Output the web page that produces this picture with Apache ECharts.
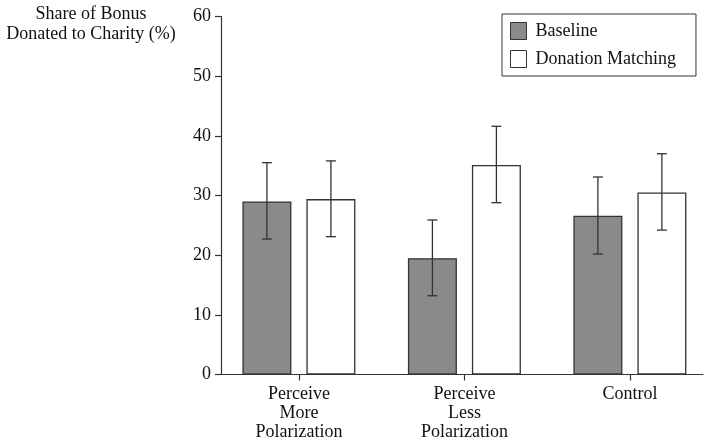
<!DOCTYPE html>
<html>
<head>
<meta charset="utf-8">
<script src="https://cdn.jsdelivr.net/npm/echarts@6/dist/echarts.min.js"></script>
<style>html,body{margin:0;padding:0;background:#fff;}#c{width:708px;height:443px;}</style>
</head>
<body>
<div id="c"></div>
<script>
const categories = ['Perceive\nMore\nPolarization', 'Perceive\nLess\nPolarization', 'Control'];
const baseline = [29.0, 19.5, 26.6];
const baselineLow = [22.7, 13.2, 20.2];
const baselineHigh = [35.5, 25.9, 33.1];
const matching = [29.4, 35.1, 30.5];
const matchingLow = [23.1, 28.8, 24.2];
const matchingHigh = [35.8, 41.6, 37.0];
const yTicks = [0, 10, 20, 30, 40, 50, 60];

const FONT = '"Liberation Serif", "DejaVu Serif", serif';
const INK = '#333';
const BAR_W = 49, GAP = 15;
const OFF = (BAR_W + GAP) / 2;

function errSeries(name, low, high, dx) {
  return {
    type: 'custom', name: name + ' err', z: 5, silent: true,
    data: low.map((l, i) => [i, l, high[i]]),
    renderItem: function (params, api) {
      const p1 = api.coord([api.value(0), api.value(1)]);
      const p2 = api.coord([api.value(0), api.value(2)]);
      const x = p1[0] + dx, c = 5;
      const st = { stroke: INK, lineWidth: 1.3 };
      return { type: 'group', children: [
        { type: 'line', shape: { x1: x, y1: p1[1], x2: x, y2: p2[1] }, style: st },
        { type: 'line', shape: { x1: x - c, y1: p1[1], x2: x + c, y2: p1[1] }, style: st },
        { type: 'line', shape: { x1: x - c, y1: p2[1], x2: x + c, y2: p2[1] }, style: st }
      ]};
    }
  };
}

const chart = echarts.init(document.getElementById('c'));
chart.setOption({
  animation: false,
  backgroundColor: '#fff',
  textStyle: { fontFamily: FONT },
  title: {
    text: 'Share of Bonus\nDonated to Charity (%)',
    left: 86, top: -1, textAlign: 'center',
    textStyle: { fontFamily: FONT, fontSize: 18, fontWeight: 'normal', color: '#111', lineHeight: 20, align: 'center' }
  },
  legend: {
    orient: 'vertical', left: 502, top: 14,
    padding: [8, 20, 8, 8],
    borderColor: INK, borderWidth: 1,
    itemWidth: 16, itemHeight: 17, itemGap: 10,
    icon: 'rect',
    data: ['Baseline', 'Donation Matching'],
    itemStyle: { borderColor: INK, borderWidth: 1 },
    textStyle: { fontFamily: FONT, fontSize: 18, color: '#111', padding: [0, 0, 0, 4] }
  },
  grid: { left: 221, right: 5, top: 16.5, bottom: 68.5 },
  xAxis: {
    type: 'value', min: -0.4707, max: 2.4417,
    splitLine: { show: false },
    axisLine: { show: true, onZero: false, lineStyle: { color: INK, width: 1.2 } },
    axisTick: { show: true, customValues: [0, 1, 2], length: 6, lineStyle: { color: INK, width: 1.2 } },
    axisLabel: {
      customValues: [0, 1, 2], margin: 10,
      formatter: v => categories[Math.round(v)] || '',
      fontFamily: FONT, fontSize: 18, color: '#111', lineHeight: 19, align: 'center'
    }
  },
  yAxis: {
    type: 'value', min: 0, max: 60, interval: 10,
    splitLine: { show: false },
    axisLine: { show: true, onZero: false, lineStyle: { color: INK, width: 1.2 } },
    axisTick: { show: true, length: 6, lineStyle: { color: INK, width: 1.2 } },
    axisLabel: {
      margin: 10, fontFamily: FONT, fontSize: 18, color: '#111',
      customValues: yTicks
    }
  },
  series: [
    {
      name: 'Baseline', type: 'bar', barWidth: BAR_W, barGap: (GAP / BAR_W * 100).toFixed(1) + '%',
      data: baseline.map((v, i) => [i, v]),
      itemStyle: { color: '#8a8a8a', borderColor: INK, borderWidth: 1.3 }
    },
    {
      name: 'Donation Matching', type: 'bar', barWidth: BAR_W,
      data: matching.map((v, i) => [i, v]),
      itemStyle: { color: '#fff', borderColor: INK, borderWidth: 1.3 }
    },
    errSeries('Baseline', baselineLow, baselineHigh, -OFF),
    errSeries('Donation Matching', matchingLow, matchingHigh, OFF)
  ]
});
</script>
</body>
</html>
